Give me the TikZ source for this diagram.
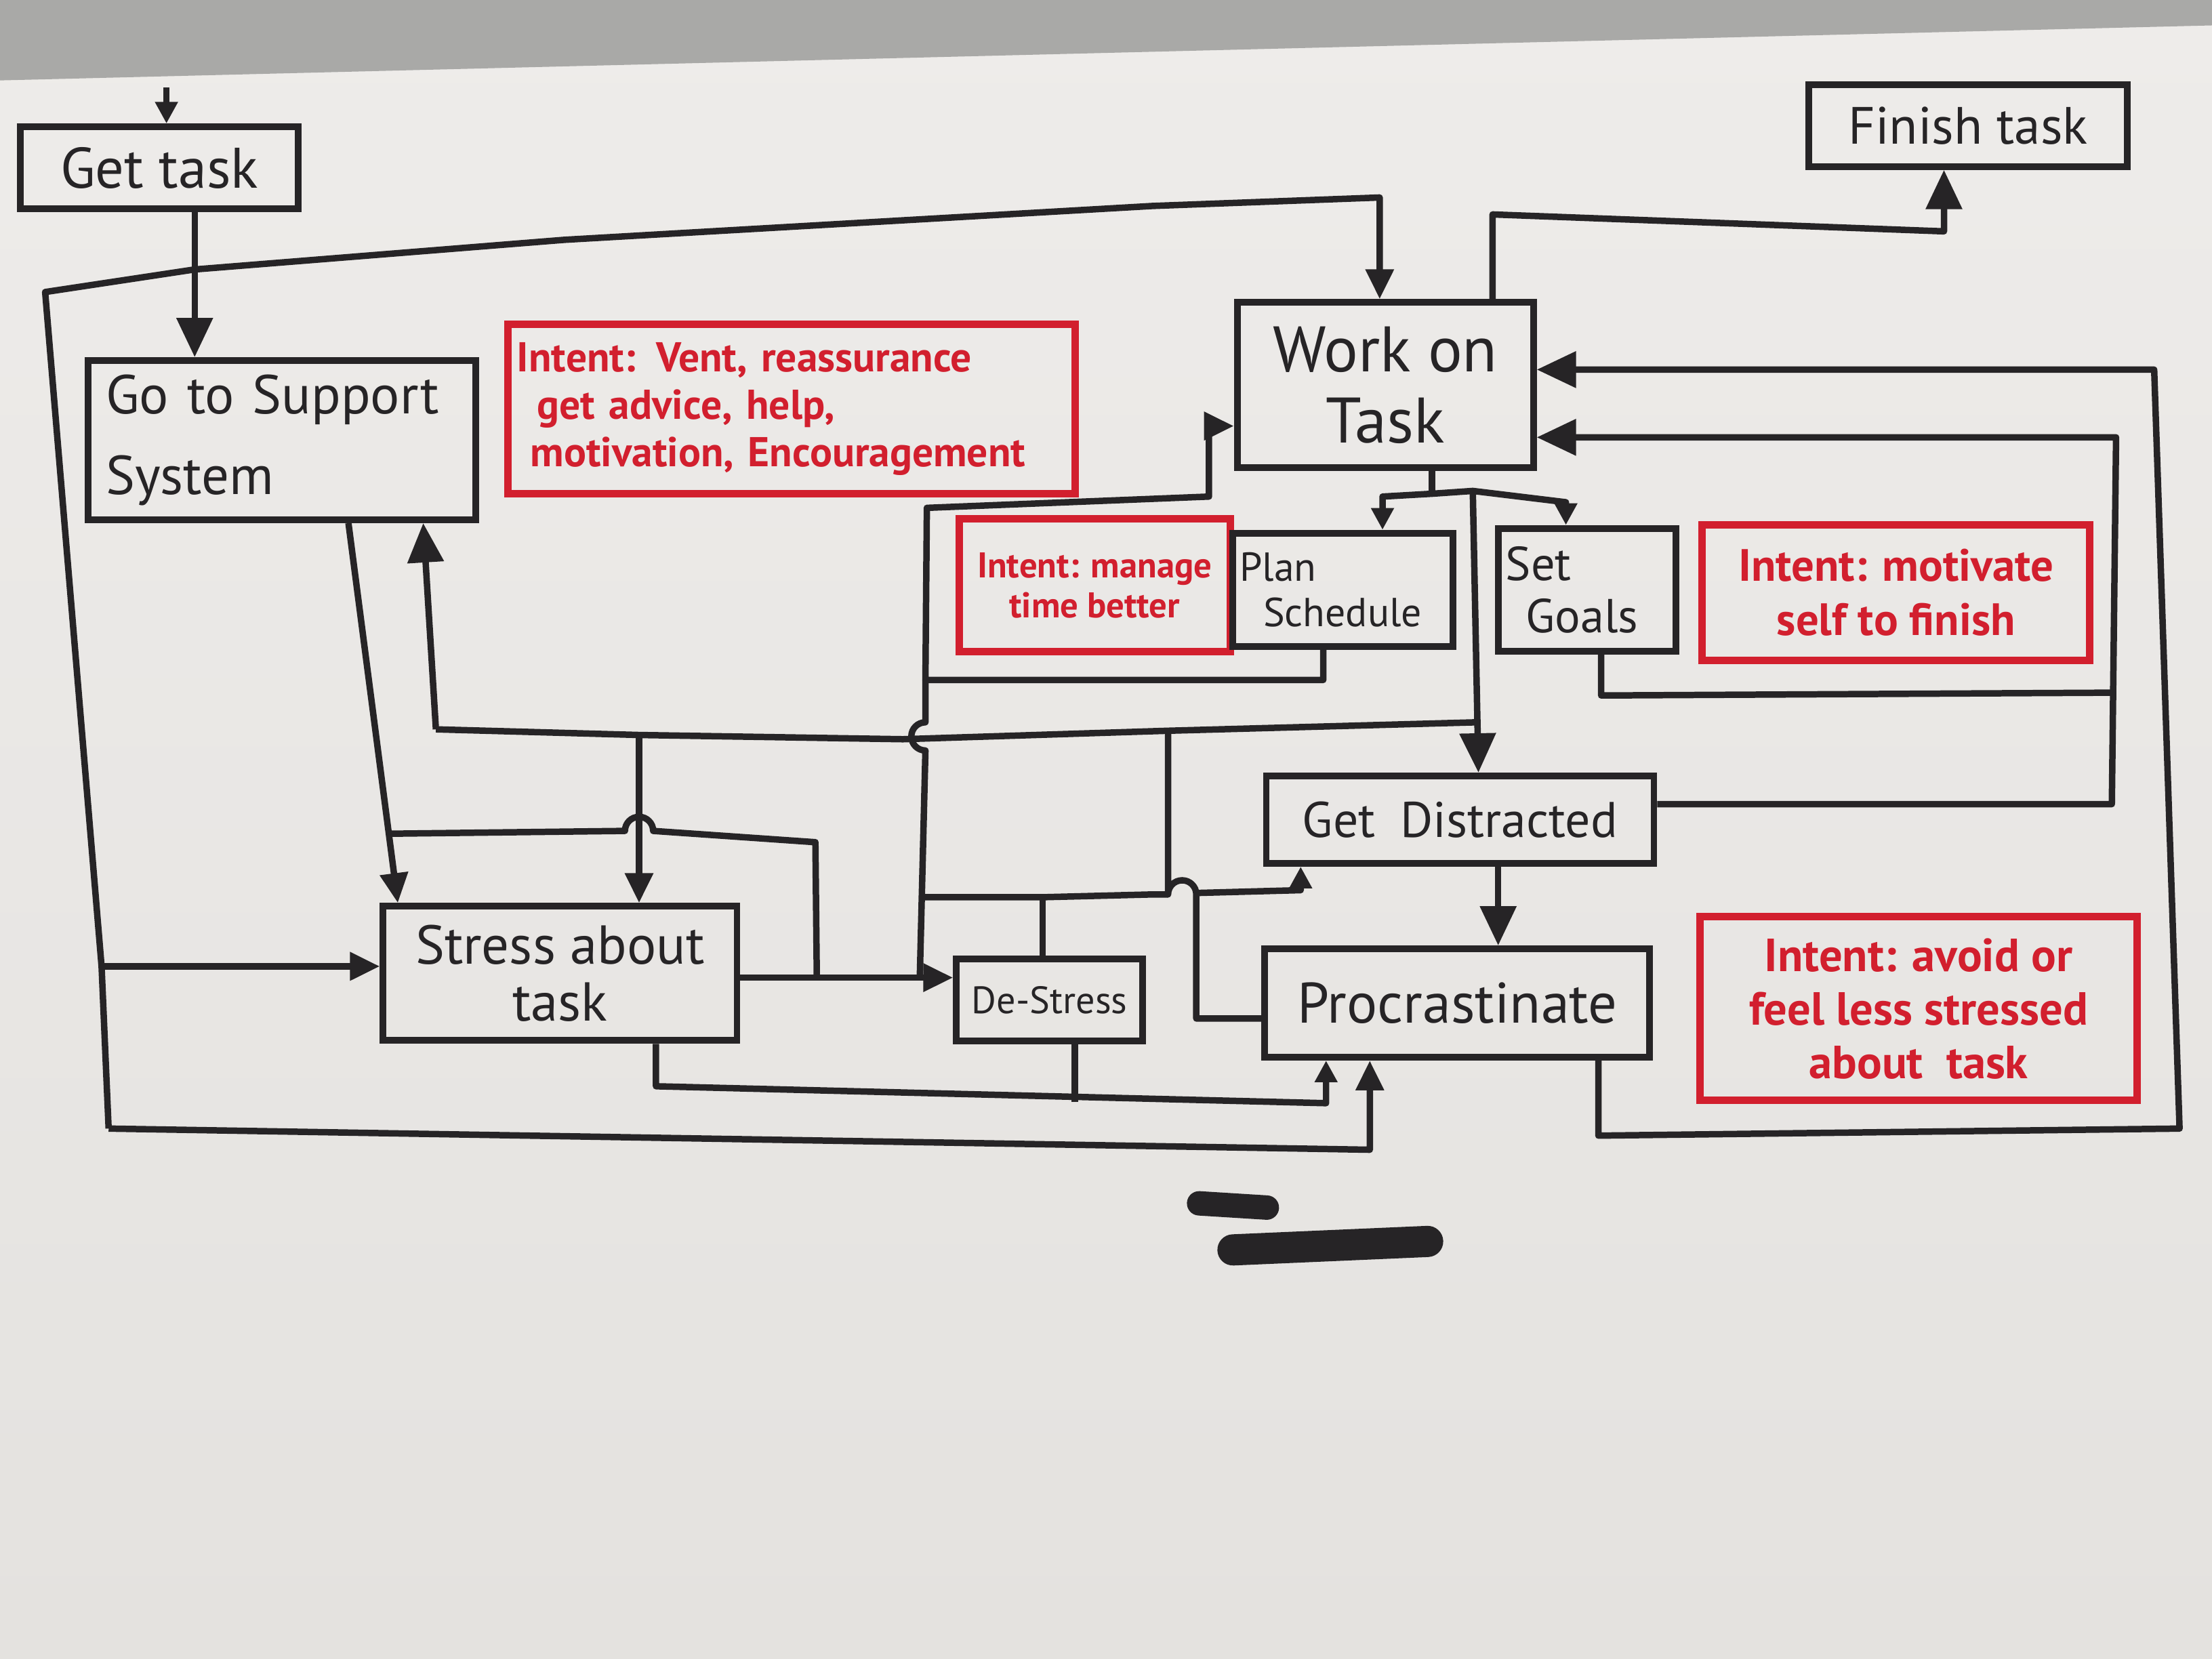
\documentclass[tikz,border=0pt]{standalone}
\usepackage{fontspec}
\setmainfont{PT Sans}
\usetikzlibrary{arrows.meta}
\definecolor{ink}{HTML}{262426}
\definecolor{redink}{HTML}{D21F2E}
\definecolor{papertop}{HTML}{EEECEA}
\definecolor{paperbot}{HTML}{E4E2DF}
\definecolor{wall}{HTML}{A9A9A7}
\begin{document}
\begin{tikzpicture}[x=0.020816cm,y=-0.020816cm,
  box/.style={draw=ink, line width=2.8pt, align=center, inner sep=0pt, text=ink},
  rbox/.style={draw=redink, line width=3.1pt, align=center, inner sep=0pt, text=redink},
  wire/.style={draw=ink, line width=2.7pt, line join=round},
  tipL/.style={-{Triangle[length=0.58cm,width=0.52cm]}},
  tipM/.style={-{Triangle[length=0.44cm,width=0.4cm]}},
  tipS/.style={-{Triangle[length=0.32cm,width=0.32cm]}}
]
% paper and background
\shade[top color=papertop, bottom color=paperbot] (0,0) rectangle (1568,1176);
\useasboundingbox (0,0) rectangle (1568,1176);
\fill[wall] (0,0) -- (1568,0) -- (1568,18) -- (0,57) -- cycle;

% nodes
\node[box, minimum width=4.10cm, minimum height=1.21cm, font={\fontsize{24}{28}\selectfont}] (gettask) at (113,119) {Get task};
\node[box, minimum width=5.72cm, minimum height=2.35cm, text width=5.2cm, align=left, font={\fontsize{23}{34}\selectfont}] (support) at (200,312) {Go to Support\\System};
\node[rbox, minimum width=8.37cm, minimum height=2.50cm, text width=8.1cm, align=left, font={\bfseries\fontsize{17.5}{20}\selectfont}] (intent1) at (561,290) {Intent: Vent, reassurance\\\hspace*{0.3cm}get advice, help,\\\hspace*{0.2cm}motivation, Encouragement};
\node[box, minimum width=4.37cm, minimum height=2.44cm, font={\fontsize{27}{30}\selectfont}] (wot) at (982,273) {Work on\\Task};
\node[box, minimum width=4.70cm, minimum height=1.21cm, font={\fontsize{22}{26}\selectfont}] (finish) at (1395,89) {Finish task};
\node[rbox, minimum width=4.00cm, minimum height=1.96cm, font={\bfseries\fontsize{15}{17}\selectfont}] (intent2) at (776,415) {Intent: manage\\time better};
\node[box, minimum width=3.25cm, minimum height=1.67cm, text width=3.05cm, align=left, font={\fontsize{17}{19}\selectfont}] (plan) at (952,418) {Plan\\\hspace*{0.35cm}Schedule};
\node[box, minimum width=2.62cm, minimum height=1.81cm, text width=2.4cm, align=left, font={\fontsize{20}{22}\selectfont}] (setgoals) at (1125,418) {Set\\\hspace*{0.3cm}Goals};
\node[rbox, minimum width=5.72cm, minimum height=2.00cm, font={\bfseries\fontsize{19}{23}\selectfont}] (intent3) at (1344,420) {Intent: motivate\\self to finish};
\node[box, minimum width=5.72cm, minimum height=1.29cm, font={\fontsize{21}{24}\selectfont}] (gd) at (1035,581) {Get\enspace Distracted};
\node[box, minimum width=5.68cm, minimum height=1.60cm, font={\fontsize{24}{28}\selectfont}] (procr) at (1033,711) {Procrastinate};
\node[rbox, minimum width=6.45cm, minimum height=2.71cm, font={\bfseries\fontsize{19.5}{22.5}\selectfont}] (intent4) at (1360,715) {Intent: avoid or\\feel less stressed\\about\enspace task};
\node[box, minimum width=5.22cm, minimum height=1.98cm, font={\fontsize{23}{24}\selectfont}] (stress) at (397,690) {Stress about\\task};
\node[box, minimum width=2.75cm, minimum height=1.21cm, font={\fontsize{16}{18}\selectfont}] (destress) at (744,709) {De-Stress};

% 1 arrow into Get task
\coordinate (gtin) at (118,62);
\draw[wire, tipS] (gtin) -- (gtin |- gettask.north);

% 2 Get task -> Support
\coordinate (j1) at (138,191);
\draw[wire, tipL] (gettask.south -| j1) -- (support.north -| j1);

% 3 top/left loop
\coordinate (c1) at (32,207);
\coordinate (c2) at (978,140);
\coordinate (cS) at (72,685);
\coordinate (cB) at (77,800);
\coordinate (pb) at (971,815);
\draw[wire, tipM] (j1) -- (400,170) -- (817,146) -- (c2) -- (c2 |- wot.north);
\draw[wire] (j1) -- (c1) -- (cS) -- (cB);
\draw[wire, tipM] (cS) -- (cS -| stress.west);
\draw[wire, tipM] (cB) -- (pb) -- (pb |- procr.south);

% 6 Support -> Stress
\coordinate (s1) at (247,0);
\coordinate (s2) at (282,0);
\coordinate (j2) at (275.5,591);
\draw[wire, tipM] (support.south -| s1) -- (stress.north -| s2);

% 8 Stress -> De-Stress
\coordinate (dsin) at (0,693);
\coordinate (j3) at (579,693);
\draw[wire, tipM] (stress.east |- dsin) -- (destress.west |- dsin);

% 7 branch from Support line to De-Stress line
\draw[wire] (j2) -- (443,589) arc[start angle=180,end angle=0,radius=0.208cm] -- (578,597) -- (j3);

% 11 big horizontal
\coordinate (bh0) at (309,517);
\coordinate (bh1) at (453,521);
\coordinate (bh2) at (828,518);
\coordinate (sa) at (300,0);
\draw[wire, tipL] (bh0) -- (support.south -| sa);
\draw[wire] (bh0) -- (bh1) -- (640,524) -- (bh2) -- (1047,512);
\draw[wire, tipM] (bh1) -- (bh1 |- stress.north);
\coordinate (pw) at (848,722);
\draw[wire] (bh2) -- (828,634) arc[start angle=180,end angle=0,radius=0.208cm]
  -- (pw) -- (pw -| procr.west);

% 9 Plan loop and vertical x~656
\coordinate (pl) at (938,482);
\coordinate (v1) at (656,482);
\coordinate (v1top) at (657,360);
\coordinate (ww) at (857,302);
\draw[wire, tipM] (plan.south -| pl) -- (pl) -- (v1) -- (v1top) -- (857,352) -- (ww) -- (ww -| wot.west);
\draw[wire] (v1) -- (656,512) arc[start angle=90,end angle=270,radius=0.208cm] -- (652,693);

% 10 De-Stress -> Get Distracted
\coordinate (dt) at (739,636);
\coordinate (gb) at (922,631);
\draw[wire] (destress.north -| dt) -- (dt);
\draw[wire] (653,636) -- (dt) -- (818,634) -- (828,634);
\draw[wire, tipS] (848,633) -- (gb) -- (gb |- gd.south);

% 12 Stress / De-Stress -> Procrastinate
\coordinate (sb) at (465,770);
\coordinate (pb2) at (940,782);
\coordinate (db) at (762,781);
\draw[wire, tipS] (stress.south -| sb) -- (sb) -- (pb2) -- (pb2 |- procr.south);
\draw[wire] (destress.south -| db) -- (db);

% 13 Get Distracted -> Procrastinate
\coordinate (gp) at (1062,0);
\draw[wire, tipL] (gd.south -| gp) -- (procr.north -| gp);

% 14 Get Distracted / Set Goals -> Work on Task
\coordinate (r1) at (1497,570);
\coordinate (r1t) at (1500,310);
\coordinate (sgb) at (1135,493);
\draw[wire, tipL] (gd.east |- r1) -- (r1) -- (r1t) -- (r1t -| wot.east);
\draw[wire] (setgoals.south -| sgb) -- (sgb) -- (1498,491);

% 15 Procrastinate -> Work on Task
\coordinate (pr) at (1133,805);
\coordinate (rr) at (1545,800);
\coordinate (rt) at (1527,262);
\draw[wire, tipL] (procr.south -| pr) -- (pr) -- (rr) -- (rt) -- (rt -| wot.east);

% 16 Work on Task -> Finish task
\coordinate (wf) at (1058,152);
\coordinate (ff) at (1378,164);
\draw[wire, tipL] (wot.north -| wf) -- (wf) -- (ff) -- (ff |- finish.south);

% 17 Work on Task split
\coordinate (ws) at (1015,350);
\coordinate (wsl) at (980,352);
\coordinate (wsr) at (1110,356);
\coordinate (wsv) at (1044,348);
\coordinate (gdt) at (1048,0);
\draw[wire] (wot.south -| ws) -- (ws);
\draw[wire, tipS] (ws) -- (wsl) -- (wsl |- plan.north);
\draw[wire, tipS] (ws) -- (wsv) -- (wsr) -- (wsr |- setgoals.north);
\draw[wire, tipL] (wsv) -- (gdt |- gd.north);

% redacted scribble
\draw[ink, line width=0.36cm, line cap=round] (850,853) -- (898,856);
\draw[ink, line width=0.46cm, line cap=round] (874,886) -- (1012,880);
\end{tikzpicture}
\end{document}
